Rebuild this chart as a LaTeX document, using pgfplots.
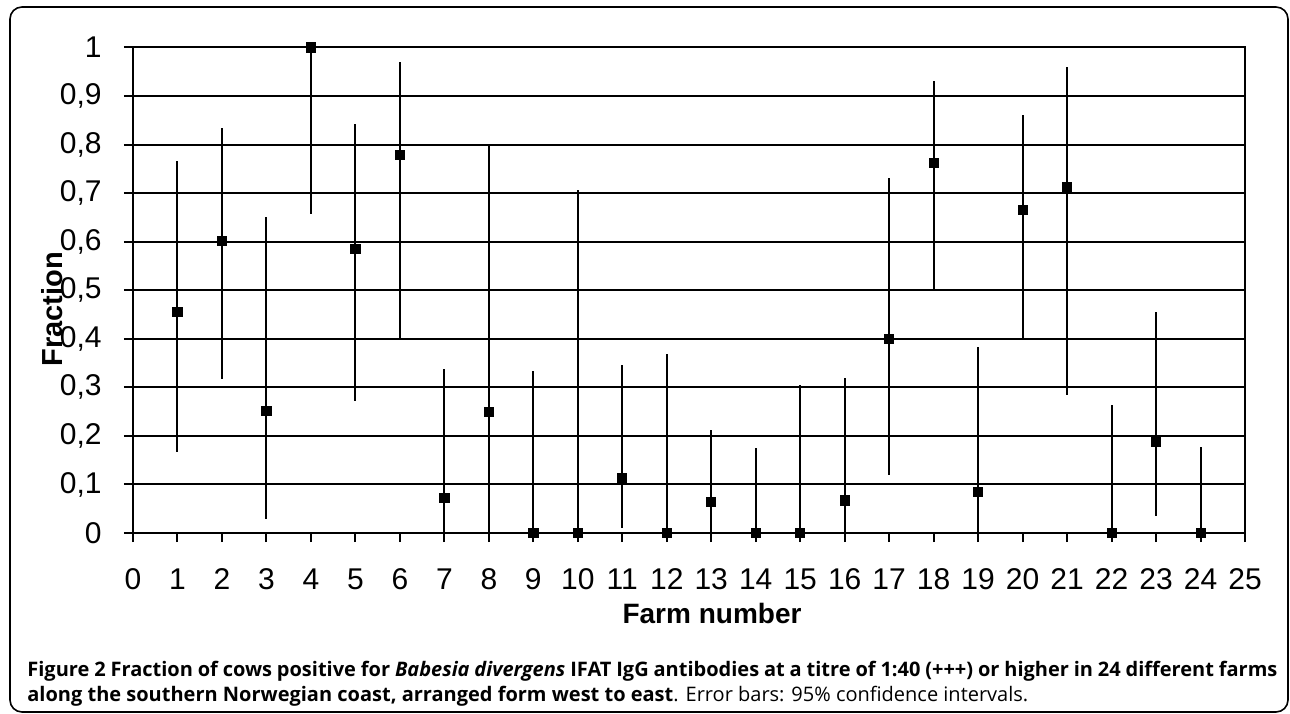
\documentclass[border=0pt]{standalone}
\usepackage{fontspec}
\setmainfont{Liberation Sans}
\newfontfamily\capfont{Open Sans}
\usepackage{pgfplots}
\pgfplotsset{compat=1.18}
\usepackage{pgfplotstable}
\pgfplotstableread{
x y ep em
1 0.455 0.311 0.289
2 0.602 0.232 0.284
3 0.251 0.400 0.223
4 1.000 0.000 0.342
5 0.585 0.258 0.314
6 0.778 0.192 0.380
7 0.0715 0.2665 0.0715
8 0.250 0.551 0.250
9 0.000 0.333 0.000
10 0.000 0.706 0.000
11 0.113 0.233 0.103
12 0.000 0.369 0.000
13 0.0646 0.1474 0.0646
14 0.000 0.176 0.000
15 0.000 0.305 0.000
16 0.067 0.252 0.067
17 0.399 0.333 0.280
18 0.763 0.168 0.265
19 0.085 0.298 0.085
20 0.666 0.195 0.265
21 0.712 0.247 0.428
22 0.000 0.264 0.000
23 0.188 0.268 0.152
24 0.000 0.177 0.000
}\datatable
\begin{document}
\begin{tikzpicture}
\useasboundingbox (0,0) rectangle (645pt,356.5pt);
\draw[line width=0.8pt, rounded corners=6pt] (5pt,0.5pt) rectangle (644pt,353pt);
\begin{axis}[
  at={(66.5pt,90pt)}, anchor=south west,
  width=556pt, height=242.75pt, scale only axis,
  xmin=0, xmax=25, ymin=0, ymax=1,
  xtick={0,1,...,25},
  ytick={0,0.1,0.2,0.3,0.4,0.5,0.6,0.7,0.8,0.9,1},
  xtick pos=left, ytick pos=left,
  tick align=outside, major tick length=4.5pt,
  tick style={black, line width=1pt},
  ymajorgrids, grid style={black, line width=1pt},
  axis line style={black, line width=1pt},
  ticklabel style={font=\fontsize{15}{18}\selectfont, inner sep=0pt},
  xticklabel style={anchor=base, yshift=-23.5pt},
  yticklabel style={anchor=east, xshift=-11pt},
  /pgf/number format/.cd, use comma, fixed, assume math mode=true,
  /pgfplots/.cd,
  xlabel={Farm number},
  xlabel style={font=\fontsize{14}{16}\selectfont\bfseries, at={(axis description cs:0.5207,-0.1854)}, anchor=base},
  clip=false,
]
\addplot[only marks, mark=square*, mark size=2.3pt, black,
  error bars/.cd, y dir=both, y explicit, error mark=none,
  error bar style={line width=1pt, black}]
  table[x=x, y=y, y error plus=ep, y error minus=em] {\datatable};
\node[rotate=90, anchor=base, inner sep=0pt, font=\fontsize{14.5}{16}\selectfont\bfseries]
  at (axis description cs:-0.0638,0.461) {Fraction};
\end{axis}
\node[anchor=base west, inner sep=0pt] at (13.5pt,18.5pt) {\parbox[t]{625pt}{\capfont\fontsize{10}{12.85}\selectfont\hyphenpenalty=10000
\textbf{Figure 2 Fraction of cows positive for \textit{Babesia divergens} IFAT IgG antibodies at a titre of 1:40 (+++) or higher in 24 different farms along the southern Norwegian coast, arranged form west to east}. Error bars: 95\% confidence intervals.}};
\end{tikzpicture}
\end{document}
